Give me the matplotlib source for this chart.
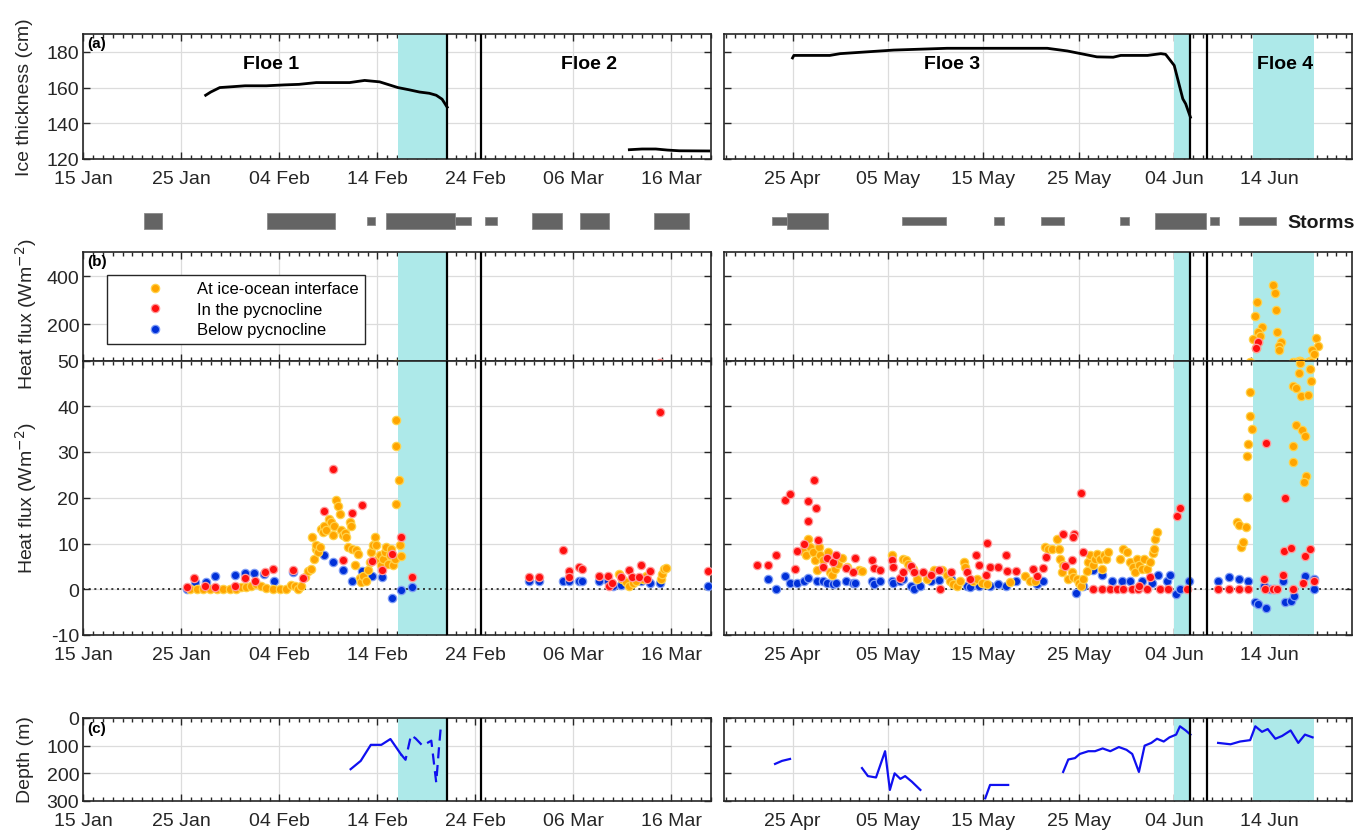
import numpy as np
import matplotlib
matplotlib.use('Agg')
import matplotlib.pyplot as plt
from matplotlib.ticker import MultipleLocator
from matplotlib.lines import Line2D

plt.rcParams['font.family'] = ['Liberation Sans', 'DejaVu Sans']
plt.rcParams['axes.unicode_minus'] = False

# ---------------- axis setup values (x = day of year 2015, 0 = 1 Jan) ----------------
left_xlim = (14.0, 78.0)
right_xlim = (106.85, 172.6)
left_xticks = [14, 24, 34, 44, 54, 64, 74]
left_xticklabels = ['15 Jan', '25 Jan', '04 Feb', '14 Feb', '24 Feb', '06 Mar', '16 Mar']
right_xticks = [114, 124, 134, 144, 154, 164]
right_xticklabels = ['25 Apr', '05 May', '15 May', '25 May', '04 Jun', '14 Jun']

shade_left = [(46.1, 51.1)]
shade_right = [(154.0, 155.7), (162.3, 168.7)]
vlines_left = [51.1, 54.6]
vlines_right = [155.7, 157.4]

floe_names = ['Floe 1', 'Floe 2', 'Floe 3', 'Floe 4']
floe_label_doy = [33.2, 65.6, 130.7, 165.6]

# ---------------- storms ----------------
storm_start = [20.18, 32.78, 42.93, 44.84, 51.9, 54.94, 59.8, 64.7, 72.2,
               111.9, 113.4, 125.5, 135.1, 140.0, 148.3, 151.95, 157.7, 160.8]
storm_end = [22.06, 39.68, 43.77, 51.9, 53.5, 56.18, 62.8, 67.6, 75.8,
             113.4, 117.7, 130.1, 136.2, 142.4, 149.3, 157.3, 158.7, 164.7]
storm_strong = [1, 1, 0, 1, 0, 0, 1, 1, 1,
                0, 1, 0, 0, 0, 0, 1, 0, 0]

# ---------------- ice thickness (cm) ----------------
floe1_doy = [26.48, 27.0, 27.92, 29.25, 30.5, 32.68, 34.5, 36.0, 37.77, 39.5, 41.17,
             42.7, 44.23, 46.09, 47.2, 48.3, 49.3, 50.0, 50.6, 51.12]
floe1_thk = [155.7, 157.5, 160.0, 160.5, 161.0, 161.0, 161.5, 161.8, 162.8, 162.8, 162.8,
             164.0, 163.2, 160.0, 158.8, 157.5, 156.8, 155.7, 153.5, 149.0]
floe2_doy = [69.7, 71.0, 72.4, 73.6, 74.8, 77.8]
floe2_thk = [125.2, 125.6, 125.6, 125.0, 124.6, 124.5]
floe3_doy = [114.0, 114.14, 117.9, 119.0, 121.8, 124.6, 130.2, 140.7, 142.8, 145.9,
             147.6, 148.4, 151.2, 152.6, 153.1, 154.0, 154.9, 155.2, 155.7]
floe3_thk = [176.6, 178.0, 178.0, 179.0, 180.0, 181.0, 182.0, 182.0, 180.5, 177.2,
             177.0, 178.0, 178.0, 179.0, 178.6, 172.4, 153.7, 150.9, 143.4]

# ---------------- heat flux (W m-2) ----------------
ice_doy = [
    24.87, 25.55, 26.23, 26.9, 27.59, 28.26, 28.94, 29.62, 30.13, 30.64, 31.15, 31.66, 32.17, 32.68,
    33.36, 34.04, 34.72, 35.23, 35.57, 35.9, 36.24, 36.58, 36.92, 37.26, 37.36, 37.5, 37.7, 37.77,
    37.94, 38.11, 38.28, 38.45, 38.52, 38.79, 39.06, 39.3, 39.47, 39.54, 39.74, 39.98, 40.15, 40.32,
    40.49, 40.66, 40.83, 41.0, 41.17, 41.34, 41.44, 41.68, 41.85, 42.02, 42.19, 42.36, 42.53, 42.87,
    43.04, 43.21, 43.37, 43.55, 43.71, 43.88, 44.05, 44.22, 44.39, 44.56, 44.73, 44.9, 45.07, 45.24,
    45.41, 45.58, 45.75, 45.85, 45.92, 46.19, 45.89, 46.26, 46.43,
    68.67, 69.0, 69.35, 69.69, 70.03, 70.36, 71.05, 71.45, 72.91, 73.08, 73.25, 73.42,
    115.13, 115.41, 115.66, 115.83, 116.1, 116.36, 116.53, 116.8, 116.88, 117.23, 117.76, 117.93,
    118.1, 118.45, 118.8, 119.15, 119.68, 121.0, 121.25, 124.39, 125.62, 125.9, 126.14, 126.39,
    126.67, 127.0, 128.06, 128.83, 129.64, 130.16, 130.5, 130.86, 131.2, 131.56, 131.98, 132.08,
    132.95, 133.37, 133.83, 134.35, 136.8, 138.37, 138.9,
    139.42, 140.47, 140.82, 141.17, 141.69, 141.97, 142.04, 142.22, 142.39, 142.92, 143.27, 143.44,
    143.79, 144.07, 144.24, 144.49, 144.84, 145.01, 145.19, 145.47, 145.71, 145.96, 146.24, 146.41,
    146.65, 146.86, 147.11, 148.33, 148.68, 149.03, 149.38, 149.66, 149.9, 150.15, 150.36, 150.6,
    150.85, 151.13, 151.48, 151.76, 151.93, 152.0, 152.18,
    160.56, 160.84, 160.98, 161.26, 161.54, 161.61, 161.61, 161.78, 161.96, 162.2, 161.89, 166.43,
    166.43, 166.78, 167.37, 167.72, 167.83, 167.55, 166.5, 166.78, 167.03, 167.13, 167.27, 168.07,
    168.18, 168.32,
    164.4, 164.58, 162.66, 164.68, 162.48, 163.18, 164.75, 162.73, 163.0, 162.3, 162.73, 162.59,
    165.17, 164.93, 165.03, 168.88, 169.12, 168.42, 168.67]
ice_flux = [
    0, 0, 0, 0, 0, 0, 0.1, 0.1, 0.5, 0.5, 0.8, 1.2, 0.7, 0.3,
    0, 0, 0.1, 1.0, 0.8, 0.1, 0.8, 2.6, 3.9, 4.5, 11.4, 6.7, 8.7, 9.6,
    8.1, 9.2, 13.2, 12.5, 13.9, 12.9, 15.4, 14.7, 11.8, 13.9, 19.4, 18.3, 16.5, 12.9,
    11.8, 12.3, 11.4, 9.2, 14.7, 13.9, 8.8, 5.2, 8.5, 7.8, 2.4, 1.6, 3.0, 1.9,
    4.1, 5.9, 8.1, 9.6, 11.4, 9.6, 6.7, 7.4, 5.2, 6.7, 8.1, 9.2, 5.6, 7.4,
    8.8, 5.2, 6.7, 31.4, 37.1, 23.8, 18.7, 9.6, 7.3,
    3.4, 2.3, 1.6, 0.8, 1.4, 1.9, 2.3, 2.9, 2.3, 3.4, 4.5, 4.6,
    8.3, 7.4, 11.0, 9.2, 8.1, 6.3, 4.3, 9.2, 7.4, 6.3, 8.1, 3.75,
    3.2, 4.5, 5.6, 6.8, 4.85, 4.3, 4.0, 7.5, 6.7, 6.3, 5.6, 4.85,
    4.5, 2.3, 2.3, 4.3, 4.1, 3.2, 1.9, 1.2, 0.8, 1.9, 5.9, 4.85,
    1.9, 2.3, 1.4, 1.2, 1.6, 3.0, 1.9,
    1.9, 9.2, 8.8, 8.8, 11.0, 8.7, 6.7, 3.75, 5.2, 2.3, 3.75, 2.66,
    2.3, 1.4, 0.7, 2.15, 3.9, 5.9, 7.4, 5.2, 6.7, 7.7, 6.7, 4.5,
    7.4, 6.7, 8.1, 6.7, 8.8, 8.1, 5.9, 4.85, 3.75, 6.7, 5.2, 4.5,
    6.7, 4.5, 5.9, 8.0, 8.7, 11.0, 12.6,
    14.8, 14.1, 9.2, 10.4, 13.6, 20.1, 29.2, 31.8, 37.8, 35.05, 43.05, 31.3,
    27.8, 35.9, 34.7, 33.6, 24.85, 23.55, 44.4, 43.9, 47.3, 49.5, 42.2, 42.5,
    48.1, 45.6,
    362, 328, 291, 259, 235, 187, 167, 167, 150, 139, 128, 100,
    128, 111, 95, 142, 111, 95, 77]

pyc_doy = [
    24.53, 25.28, 26.4, 27.42, 29.45, 30.47, 31.49, 32.51, 33.36, 35.4, 36.41, 38.52, 39.47, 40.49,
    41.44, 42.46, 43.48, 44.5, 45.51, 46.43, 47.52,
    59.5, 60.52, 62.96, 63.5, 63.5, 64.52, 64.86, 66.56, 67.48, 67.58, 67.92, 68.84, 69.62, 69.96,
    70.7, 70.87, 71.55, 71.79, 72.84, 77.77,
    110.31, 111.47, 112.23, 113.25, 113.7, 114.3, 114.44, 115.24, 115.59, 115.62, 116.29, 116.46,
    116.64, 117.16, 117.65, 118.28, 118.56, 119.61, 120.3, 120.55, 122.3, 122.54, 123.17, 124.39,
    124.57, 125.27, 125.55, 126.39, 126.74, 127.64, 128.52, 129.39, 129.46, 130.58, 132.26, 132.6,
    133.23, 133.58, 134.25, 134.35, 134.7, 135.58, 136.38, 136.52, 137.43, 139.17, 139.6,
    140.23, 140.58, 142.32, 143.51, 143.44, 142.57, 143.27, 144.24, 144.49, 145.54, 146.41, 147.28,
    147.98, 148.68, 149.56, 150.25, 151.13, 152.53, 153.4, 150.36, 151.48, 154.27, 154.62, 155.32,
    158.64, 159.69, 160.74, 161.78, 163.64, 163.36, 163.53, 164.4, 164.82, 165.38, 165.63, 165.52,
    166.22, 166.5, 167.72, 167.48, 168.25, 168.6, 162.73, 162.59]
pyc_flux = [
    0.5, 2.4, 0.8, 0.5, 0.8, 2.4, 1.9, 3.7, 4.5, 4.1, 2.4, 17.0, 26.2, 6.3,
    16.6, 18.5, 6.1, 4.3, 7.8, 11.4, 2.6,
    2.66, 2.66, 8.5, 3.9, 2.66, 4.84, 4.33, 3.0, 3.0, 0.8, 1.4, 2.66, 4.1, 2.66,
    2.66, 5.35, 2.3, 3.9, 38.7, 3.9,
    5.35, 5.35, 7.5, 19.6, 20.85, 4.5, 8.3, 9.9, 19.25, 15.0, 23.8, 17.7,
    10.8, 4.85, 6.8, 5.9, 7.5, 4.6, 3.75, 6.8, 6.3, 4.6, 4.1, 6.4,
    4.85, 2.4, 3.75, 5.1, 3.75, 3.75, 3.2, 4.1, 0.1, 3.75, 3.75, 2.3,
    7.5, 5.35, 3.2, 10.1, 4.85, 4.85, 7.5, 3.9, 3.9, 4.5, 2.9,
    4.6, 7.0, 12.1, 12.1, 11.4, 5.1, 6.3, 21.07, 8.1, 0.1, 0.1, 0.1,
    0.1, 0.1, 0.1, 0.1, 0.1, 0.1, 0.1, 0.8, 2.66, 15.98, 17.7, 0.1,
    0.1, 0.1, 0.1, 0.1, 32.0, 2.3, 0.1, 0.1, 0.1, 3.2, 19.9, 8.3,
    9.0, 0.1, 7.25, 1.4, 8.7, 1.9, 128, 100]

below_doy = [
    24.53, 25.38, 26.5, 27.42, 29.45, 30.47, 31.39, 32.44, 33.43, 35.4, 38.52, 39.47, 40.49, 41.44,
    42.46, 43.48, 44.5, 45.51, 46.43, 47.52,
    59.5, 60.52, 62.96, 63.5, 64.52, 64.86, 66.56, 67.48, 68.0, 68.84, 69.96, 70.87, 71.79, 72.84, 77.77,
    111.47, 112.23, 113.25, 113.7, 114.44, 115.24, 115.59, 116.53, 117.16, 117.65, 118.28, 118.56,
    119.61, 120.3, 120.55, 122.3, 122.54, 123.17, 124.39, 124.57, 125.27, 125.55, 126.39, 126.74,
    127.36, 128.52, 129.39, 130.58, 132.26, 132.6, 133.58, 134.7, 135.58, 136.38, 137.43, 139.6,
    140.3, 143.72, 144.49, 145.54, 146.41, 147.46, 148.51, 149.38, 150.6, 151.65, 152.35, 153.22,
    153.57, 154.2, 154.62, 155.5,
    158.64, 159.69, 160.74, 161.78, 162.5, 162.73, 163.64, 164.47, 165.38, 165.63, 166.22, 166.57,
    167.72, 168.6, 168.6, 164.0, 163.36]
below_flux = [
    0.1, 1.6, 1.6, 3.0, 3.2, 3.6, 3.6, 3.4, 1.9, 3.75, 7.5, 5.9, 4.1, 1.9,
    3.9, 2.9, 2.6, -1.9, -0.1, 0.4,
    1.9, 1.9, 1.7, 1.7, 1.7, 1.7, 1.7, 1.7, 0.8, 1.0, 1.4, 1.7, 1.4, 1.4, 0.8,
    2.3, 0.1, 2.9, 1.4, 1.4, 1.9, 2.4, 1.9, 1.9, 1.4, 1.2, 1.4,
    1.9, 1.4, 1.4, 1.7, 1.2, 1.7, 1.9, 1.4, 1.7, 2.3, 0.7, 0.1,
    0.7, 1.7, 2.1, 2.3, 0.8, 0.5, 0.8, 0.8, 1.2, 0.8, 1.9, 1.2,
    1.7, -0.8, 0.8, 4.3, 3.2, 1.9, 1.7, 1.7, 1.7, 1.4, 3.2, 1.9,
    3.2, -1.0, 0.0, 1.9,
    1.9, 2.66, 2.3, 1.7, -2.8, -3.2, -4.1, 0.1, 1.7, -2.8, -2.65, -1.5,
    2.9, 2.3, 0.0, 0.1, 0.8]

# ---------------- pycnocline depth (m) ----------------
depth_solid_doy = [41.27, 42.3, 43.33, 44.4, 45.33, 46.4, np.nan,
                   112.17, 112.9, 113.74, np.nan,
                   121.28, 121.9, 122.75, 123.7, 124.2, 124.7, 125.3, 125.8, 126.5, 127.4, np.nan,
                   134.2, 134.7, 136.6, np.nan,
                   142.36, 142.9, 143.6, 144.1, 145.0, 145.7, 146.5, 147.3, 148.2, 149.0, 149.6,
                   150.3, 150.9, 151.6, 152.2, 152.9, 153.5, 154.2, 154.6, 155.2, 155.7, np.nan,
                   158.6, 159.9, 160.9, 161.96, 162.5, 163.2, 163.8, 164.6, 165.3, 166.2, 167.0,
                   167.7, 168.5]
depth_solid_m = [185, 155, 97, 97, 76, 131, np.nan,
                 166, 155, 148, np.nan,
                 181, 210, 215, 120, 260, 200, 220, 210, 230, 260, np.nan,
                 290, 242, 242, np.nan,
                 195, 150, 145, 130, 120, 120, 110, 120, 105, 115, 130,
                 195, 100, 90, 75, 85, 70, 60, 30, 45, 60, np.nan,
                 90, 95, 85, 80, 30, 50, 40, 75, 65, 45, 90,
                 60, 70]
depth_dash_doy = [46.4, 46.87, 47.43, 47.9, 48.6, 49.5, 50.0, 50.3, 50.45, 50.9]
depth_dash_m = [131, 151, 62, 74, 100, 82, 233, 100, 40, 37.5]

# ---------------- figure ----------------
W, H = 1356, 837
fig = plt.figure(figsize=(W / 100, H / 100), dpi=100)


def pix_axes(x0, x1, ytop, ybot):
    return fig.add_axes([x0 / W, 1 - ybot / H, (x1 - x0) / W, (ybot - ytop) / H])


LX0, LX1 = 83.3, 710.7
RX0, RX1 = 724.3, 1351.7
rows = {'a': (35, 160), 'st': (206, 238), 'bu': (253, 361.5), 'bl': (361.5, 636), 'c': (719, 802)}

shade_col = '#ADE9E9'
grid_col = '#DCDCDC'
spine_col = '#262626'
TFS = 14


def base_style(ax, side, ylim, yticks, xlabels=True, ylabels=True):
    xlim = left_xlim if side == 'L' else right_xlim
    xt = left_xticks if side == 'L' else right_xticks
    xtl = left_xticklabels if side == 'L' else right_xticklabels
    ax.set_xlim(xlim)
    ax.set_ylim(ylim)
    ax.set_xticks(xt)
    ax.set_xticklabels(xtl if xlabels else [])
    ax.xaxis.set_minor_locator(MultipleLocator(1))
    ax.set_yticks(yticks)
    if not ylabels:
        ax.set_yticklabels([])
    ax.tick_params(which='both', direction='in', top=True, right=True, width=1.0,
                   colors=spine_col, labelcolor='#262626', labelsize=TFS)
    ax.tick_params(which='major', length=5)
    ax.tick_params(which='minor', length=3)
    ax.tick_params(axis='x', pad=8)
    ax.tick_params(axis='y', pad=3)
    ax.grid(True, which='major', color=grid_col, lw=0.9)
    ax.set_axisbelow(True)
    for s in ax.spines.values():
        s.set_color(spine_col)
        s.set_linewidth(1.2)
    shades = shade_left if side == 'L' else shade_right
    for (s0, s1) in shades:
        ax.axvspan(s0, s1, color=shade_col, lw=0, zorder=1)
    vls = vlines_left if side == 'L' else vlines_right
    for v in vls:
        ax.axvline(v, color='black', lw=1.6, zorder=4)


def scatter_all(ax):
    ax.scatter(below_doy, below_flux, s=36, c='#0030D8', edgecolors='#7E9CF5', linewidths=0.9, zorder=3, clip_on=True)
    ax.scatter(ice_doy, ice_flux, s=36, c='#FFA500', edgecolors='#FFD24A', linewidths=0.9, zorder=3, clip_on=True)
    ax.scatter(pyc_doy, pyc_flux, s=36, c='#FF1010', edgecolors='#FF9A9A', linewidths=0.9, zorder=3, clip_on=True)


for side, (x0, x1) in (('L', (LX0, LX1)), ('R', (RX0, RX1))):
    yl = side == 'L'
    # (a) ice thickness
    ax = pix_axes(x0, x1, *rows['a'])
    base_style(ax, side, (120, 190), [120, 140, 160, 180], ylabels=yl)
    if side == 'L':
        ax.plot(floe1_doy, floe1_thk, color='black', lw=2, zorder=3)
        ax.plot(floe2_doy, floe2_thk, color='black', lw=2, zorder=3)
        ax.text(0.006, 0.985, '(a)', transform=ax.transAxes, fontsize=11, fontweight='bold', va='top', ha='left')
    else:
        ax.plot(floe3_doy, floe3_thk, color='black', lw=2, zorder=3)
    for name, xd in zip(floe_names, floe_label_doy):
        if ax.get_xlim()[0] <= xd <= ax.get_xlim()[1]:
            ax.text(xd, 173.5, name, fontsize=14, fontweight='bold', ha='center', va='center', zorder=5)

    # storms
    axs = pix_axes(x0, x1, *rows['st'])
    axs.set_xlim(left_xlim if side == 'L' else right_xlim)
    axs.set_ylim(-1, 1)
    axs.axis('off')
    for s0, s1, strong in zip(storm_start, storm_end, storm_strong):
        hh = 0.47 if strong else 0.23
        axs.bar((s0 + s1) / 2, 2 * hh, width=s1 - s0, bottom=-hh, color='#646464', edgecolor='#8A8A8A', lw=0.6)

    # (b) upper
    axu = pix_axes(x0, x1, *rows['bu'])
    base_style(axu, side, (50, 500), [200, 400], xlabels=False, ylabels=yl)
    scatter_all(axu)
    if side == 'L':
        axu.text(0.006, 0.985, '(b)', transform=axu.transAxes, fontsize=11, fontweight='bold', va='top', ha='left')
        handles = [Line2D([], [], ls='none', marker='o', ms=6, mfc='#FFA500', mec='#FFD24A', mew=0.9),
                   Line2D([], [], ls='none', marker='o', ms=6, mfc='#FF1010', mec='#FF9A9A', mew=0.9),
                   Line2D([], [], ls='none', marker='o', ms=6, mfc='#0030D8', mec='#7E9CF5', mew=0.9)]
        leg = axu.legend(handles, ['At ice-ocean interface', 'In the pycnocline', 'Below pycnocline'],
                         loc='upper left', bbox_to_anchor=(0.0378, 0.79), fontsize=12,
                         frameon=True, fancybox=False, framealpha=1, edgecolor='#262626',
                         borderpad=0.4, handlelength=4.9, handletextpad=0.1, labelspacing=0.33,
                         borderaxespad=0)
        leg.get_frame().set_linewidth(1.0)
        leg.set_zorder(6)

    # (b) lower
    axl = pix_axes(x0, x1, *rows['bl'])
    base_style(axl, side, (-10, 50), [-10, 0, 10, 20, 30, 40, 50], ylabels=yl)
    axl.axhline(0, color='#202020', ls=(0, (1.2, 2.2)), lw=1.2, zorder=2.5)
    scatter_all(axl)

    # (c) depth
    axc = pix_axes(x0, x1, *rows['c'])
    base_style(axc, side, (300, 0), [0, 100, 200, 300], ylabels=yl)
    axc.plot(depth_solid_doy, depth_solid_m, color='#1010F0', lw=1.6, zorder=3)
    axc.plot(depth_dash_doy, depth_dash_m, color='#1010F0', lw=1.6, ls=(0, (5, 3)), zorder=3)
    if side == 'L':
        axc.text(0.006, 0.96, '(c)', transform=axc.transAxes, fontsize=11, fontweight='bold', va='top', ha='left')

# y labels
fig.text(25 / W, 1 - 97 / H, 'Ice thickness (cm)', rotation=90, ha='center', va='center', fontsize=TFS, color='#262626')
fig.text(26 / W, 1 - 314 / H, 'Heat flux (Wm$^{-2}$)', rotation=90, ha='center', va='center', fontsize=TFS, color='#262626')
fig.text(26 / W, 1 - 498 / H, 'Heat flux (Wm$^{-2}$)', rotation=90, ha='center', va='center', fontsize=TFS, color='#262626')
fig.text(26 / W, 1 - 760 / H, 'Depth (m)', rotation=90, ha='center', va='center', fontsize=TFS, color='#262626')
fig.text(1287 / W, 1 - 224 / H, 'Storms', ha='left', va='center', fontsize=14, fontweight='bold', color='#1a1a1a')

fig.savefig('out.png', dpi=100)
